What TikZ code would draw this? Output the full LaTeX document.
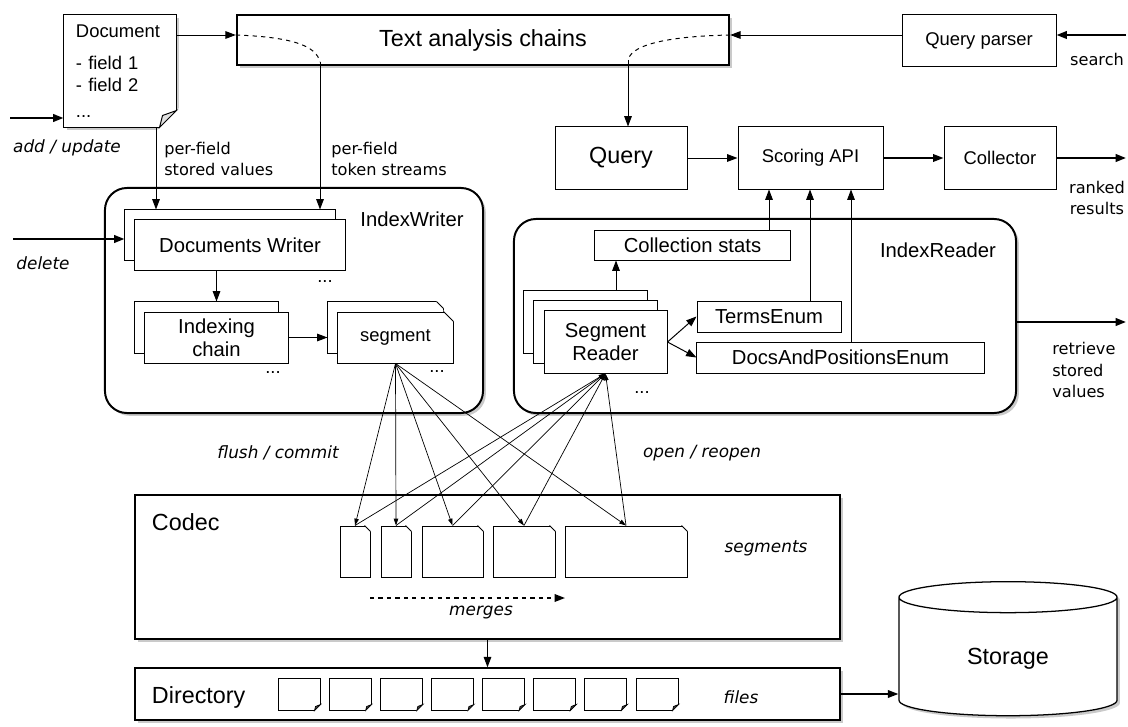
\documentclass[tikz,border=0pt]{standalone}
\usepackage{fontspec}
\setmainfont{Liberation Sans}
\newfontfamily\notefont{DejaVu Sans}
\usetikzlibrary{shapes,shadows,arrows.meta,calc}

\tikzset{
  box/.style={shape=rectangle,draw=black,fill=white,align=center,inner sep=0pt,line width=0.7pt},
  shadowed/.style={drop shadow={shadow xshift=0.07cm,shadow yshift=-0.07cm,opacity=0.35,fill=black!60}},
  frame/.style={box,rounded corners=0.55cm,line width=1.4pt,shadowed},
  stackone/.style={copy shadow={fill=white,draw=black,line width=0.7pt,shadow xshift=-0.25cm,shadow yshift=0.25cm}},
  stacktwo/.style={copy shadow={fill=white,draw=black,line width=0.7pt,shadow xshift=-0.5cm,shadow yshift=0.5cm},stackone},
  fbig/.style={font=\fontsize{16.6}{20}\selectfont},
  fmid/.style={font=\fontsize{14.4}{16.5}\selectfont},
  fsmall/.style={font=\fontsize{13.1}{15.5}\selectfont},
  lbl/.style={font=\notefont\fontsize{11.5}{15}\selectfont,align=left,inner sep=0pt},
  ilbl/.style={font=\notefont\itshape\fontsize{12}{15}\selectfont,inner sep=0pt},
  arrow/.style={draw=black,line width=0.7pt,-{Triangle[length=0.26cm,width=0.19cm]}},
  bigarrow/.style={arrow,line width=1.5pt},
  fanarrow/.style={draw=black,line width=0.5pt,-{Triangle[length=0.17cm,width=0.11cm]}}
}

\begin{document}
\begin{tikzpicture}[x=0.025cm,y=-0.025cm]
\useasboundingbox (0,0) rectangle (1128,727);
\node[box,shadowed,fsmall,minimum width=2.8cm,minimum height=2.8cm,text width=2.2cm,align=left] (doc) at (120,71) {Document\\[7pt]- field 1\\- field 2\\[3pt]...};
\node[box,line width=1.6pt,shadowed,fbig,minimum width=12.3cm,minimum height=1.25cm] (tac) at (483,40) {Text analysis chains};
\node[box,fsmall,minimum width=3.85cm,minimum height=1.275cm] (qp) at (979,40.5) {Query parser};
\node[box,fbig,minimum width=3.3cm,minimum height=1.55cm] (qry) at (621,158) {Query};
\node[box,fsmall,minimum width=3.625cm,minimum height=1.55cm] (sapi) at (810.5,158) {Scoring API};
\node[box,fsmall,minimum width=2.8cm,minimum height=1.55cm] (coll) at (1000,158) {Collector};

\node[frame,minimum width=9.45cm,minimum height=5.625cm] (iw) at (294,300.5) {};
\node[fmid] (iwl) at (412,219) {IndexWriter};
\node[box,stackone,fmid,minimum width=5.25cm,minimum height=1.25cm] (dw) at (240,245) {Documents Writer};
\node[box,stackone,fmid,minimum width=3.575cm,minimum height=1.275cm] (ic) at (216.5,337.5) {Indexing\\chain};
\node[box,stackone,fsmall,minimum width=2.875cm,minimum height=1.275cm] (seg) at (395.5,337.5) {segment};
\node[fsmall] (dwd) at (325,282) {...};
\node[fsmall] (icd) at (273,373) {...};
\node[fsmall] (segd) at (437,372) {...};

\node[frame,minimum width=12.55cm,minimum height=4.85cm] (ir) at (765,316) {};
\node[fmid] (irl) at (938,250) {IndexReader};
\node[box,fmid,minimum width=4.875cm,minimum height=0.75cm] (cs) at (692.5,245) {Collection stats};
\node[box,stacktwo,fmid,minimum width=3.075cm,minimum height=1.55cm] (sr) at (605.5,342) {Segment\\Reader};
\node[box,fmid,minimum width=3.6cm,minimum height=0.775cm] (te) at (769,316.5) {TermsEnum};
\node[box,fmid,minimum width=7.175cm,minimum height=0.775cm] (dpe) at (840.5,357.5) {DocsAndPositionsEnum};
\node[fsmall] (srd) at (642,393) {...};

\node[box,line width=1pt,shadowed,minimum width=17.625cm,minimum height=3.6cm] (codec) at (487.5,567) {};
\node[fbig,anchor=west] (codecl) at (147,522) {Codec};
\foreach \n/\x/\w in {s1/355/0.75cm,s2/396/0.75cm,s3/452.5/1.525cm,s4/524/1.55cm,s5/626/3.05cm}
  \node[box,minimum width=\w,minimum height=1.275cm] (\n) at (\x,551.5) {};
\node[ilbl] (segl) at (766,548) {segments};
\node[ilbl] (mrgl) at (481,613) {merges};
\coordinate (mrgA) at (370,598);
\coordinate (mrgB) at (565,598);

\node[box,line width=1pt,shadowed,minimum width=17.625cm,minimum height=1.3cm] (dir) at (487.5,694) {};
\node[fbig,anchor=west] (dirl) at (147,697) {Directory};
\foreach \i in {1,...,8}
  \node[box,minimum width=1.05cm,minimum height=0.8cm] (f\i) at ({299+51.15*(\i-1)},694) {};
\node[ilbl] (filesl) at (741,697) {files};
\node[shape=cylinder,shape border rotate=90,aspect=0.34,draw=black,fill=white,line width=0.9pt,shadowed,fbig,minimum width=5.45cm,minimum height=3.35cm] (stor) at (1008,659) {Storage};

\node[ilbl] (addl) at (67,148) {add / update};
\node[ilbl] (dell) at (43,263) {delete};
\node[lbl,anchor=west] (svl) at (164,159) {per-field\\stored values};
\node[lbl,anchor=west] (tsl) at (331,159) {per-field\\token streams};
\node[lbl] (srchl) at (1097,59) {search};
\node[lbl,align=center] (rnkl) at (1097,198) {ranked\\results};
\node[lbl,anchor=west] (retl) at (1052,370) {retrieve\\stored\\values};
\node[ilbl] (fcl) at (278,453) {flush / commit};
\node[ilbl] (orl) at (702,453) {open / reopen};

\coordinate (row) at (0,35);
\coordinate (addin) at (10,118);
\coordinate (delin) at (13,239);
\coordinate (srch) at (1126,35);
\coordinate (rnk) at (1126,158);
\coordinate (ret) at (1126,322);
\coordinate (tsin) at (320,62);
\coordinate (qin) at (628,60);

\fill[white] ($(doc.south east)+(4,-21)$) -- ($(doc.south east)+(4,4)$) -- ($(doc.south east)+(-21,4)$) -- cycle;
\filldraw[fill=black!12,line width=0.7pt] ($(doc.south east)+(0,-17)$) -- ($(doc.south east)+(-14,-12)$) -- ($(doc.south east)+(-17,0)$) -- cycle;
\foreach \d/\c in {10/7,0/10} {
  \fill[white] ($(seg.north east)+(-\d,-\d)+(-\c-1,-1)$) -- ($(seg.north east)+(-\d,-\d)+(1,-1)$) -- ($(seg.north east)+(-\d,-\d)+(1,\c+1)$) -- cycle;
  \draw[line width=0.7pt] ($(seg.north east)+(-\d,-\d)+(-\c,0)$) -- ($(seg.north east)+(-\d,-\d)+(0,\c)$);
}
\foreach \n in {s1,s2,s3,s4,s5} {
  \fill[white] ($(\n.north east)+(-7,-1)$) -- ($(\n.north east)+(1,-1)$) -- ($(\n.north east)+(1,7)$) -- cycle;
  \draw[line width=0.7pt] ($(\n.north east)+(-6,0)$) -- ($(\n.north east)+(0,6)$);
}
\foreach \i in {1,...,8} {
  \fill[white] ($(f\i.south east)+(1,-7)$) -- ($(f\i.south east)+(1,1)$) -- ($(f\i.south east)+(-7,1)$) -- cycle;
  \filldraw[fill=black!75,line width=0.5pt] ($(f\i.south east)+(0,-6)$) -- ($(f\i.south east)+(-5,-4)$) -- ($(f\i.south east)+(-6,0)$) -- cycle;
}

\draw[bigarrow] (addin) -- (addin -| doc.west);
\draw[arrow] (doc.east |- row) -- (tac.west |- row);
\draw[dashed,line width=0.7pt] (tac.west |- row) .. controls (290,37) and (316,45) .. (tsin);
\draw[arrow] (tsin) -- ([yshift=0.25cm]dw.north -| tsin);
\draw[arrow] (doc.south -| 156,0) -- ([yshift=0.25cm]dw.north -| 156,0);
\draw[arrow] (qp.west |- row) -- (tac.east |- row);
\draw[dashed,line width=0.7pt] (tac.east |- row) .. controls (680,36) and (632,42) .. (qin);
\draw[arrow] (qin) -- (qin |- qry.north);
\draw[bigarrow] (srch) -- (srch -| qp.east);
\draw[arrow] (qry.east) -- (sapi.west);
\draw[arrow,line width=1.1pt] (sapi.east) -- (coll.west);
\draw[bigarrow] (coll.east) -- (rnk);
\draw[arrow] (cs.north -| 769,0) -- (sapi.south -| 769,0);
\draw[arrow] (te.north -| 810,0) -- (sapi.south -| 810,0);
\draw[arrow] (dpe.north -| 851,0) -- (sapi.south -| 851,0);
\draw[arrow] ([yshift=0.5cm]sr.north -| 616,0) -- (cs.south -| 616,0);
\draw[arrow] (sr.east) -- (te.west);
\draw[arrow] (sr.east) -- (dpe.west);
\draw[bigarrow] (ir.east |- ret) -- (ret);
\draw[bigarrow] (delin) -- ([xshift=-0.25cm]dw.west |- delin);
\draw[arrow] (dw.south -| ic.north) -- ([yshift=0.25cm]ic.north);
\draw[arrow] (ic.east) -- ([xshift=-0.25cm]seg.west);
\foreach \s in {s1,s2,s3,s4,s5} {
  \draw[fanarrow] (seg.south) -- (\s.north);
  \draw[fanarrow] (\s.north) -- (sr.south);
}
\draw[arrow,line width=1.1pt,dashed] (mrgA) -- (mrgB);
\draw[arrow] (codec.south) -- (dir.north);
\draw[arrow,line width=1.1pt] (dir.east) -- (dir.east -| stor.west);
\end{tikzpicture}
\end{document}
